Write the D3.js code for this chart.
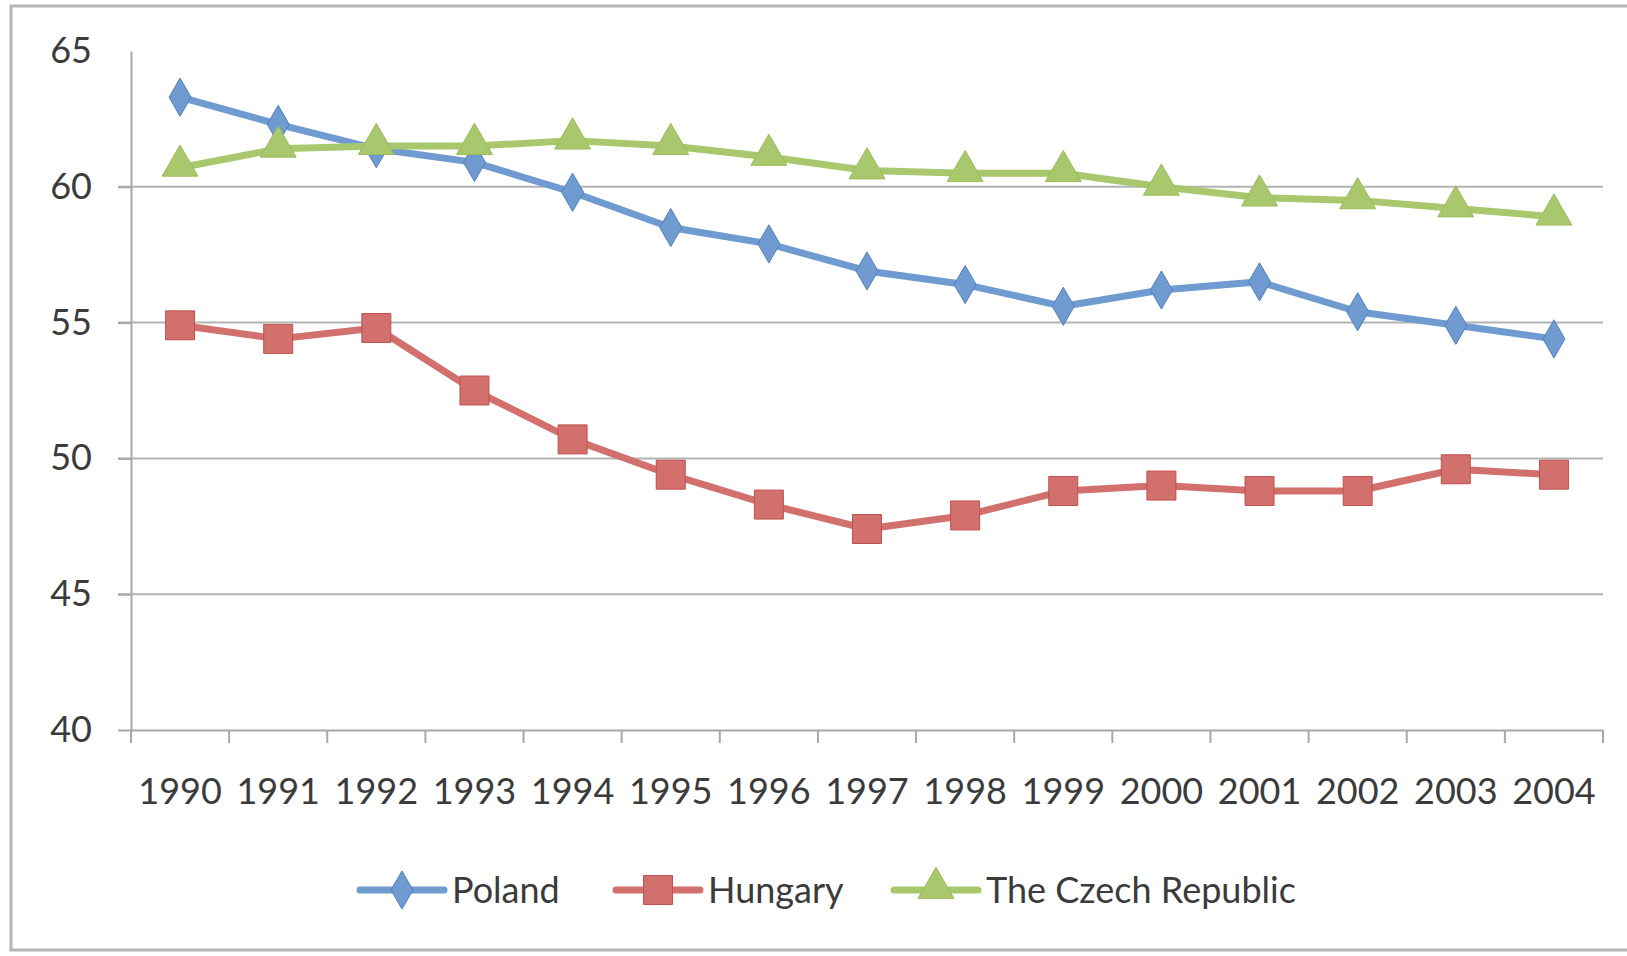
<!DOCTYPE html>
<html>
<head>
<meta charset="utf-8">
<script src="https://cdn.jsdelivr.net/npm/d3@7"></script>
<style>
  body { margin: 0; background: #fff; }
  text { font-family: Lato, "Open Sans", sans-serif; fill: #3b3b3b; }
</style>
</head>
<body>
<script>
// Chart data
var years = ["1990", "1991", "1992", "1993", "1994", "1995", "1996", "1997",
             "1998", "1999", "2000", "2001", "2002", "2003", "2004"];
var poland  = [63.3, 62.3, 61.4, 60.9, 59.8, 58.5, 57.9, 56.9, 56.4, 55.6, 56.2, 56.5, 55.4, 54.9, 54.4];
var hungary = [54.9, 54.4, 54.8, 52.5, 50.7, 49.4, 48.3, 47.4, 47.9, 48.8, 49.0, 48.8, 48.8, 49.6, 49.4];
var czech   = [60.7, 61.4, 61.5, 61.5, 61.7, 61.5, 61.1, 60.6, 60.5, 60.5, 60.0, 59.6, 59.5, 59.2, 58.9];
var seriesNames = ["Poland", "Hungary", "The Czech Republic"];
var yTicks = [40, 45, 50, 55, 60, 65];

var svgWidth = 1627;
var svgHeight = 956;

var margin = { top: 51, right: 24, bottom: 226, left: 131 };
var chartWidth = svgWidth - margin.left - margin.right;
var chartHeight = svgHeight - margin.top - margin.bottom;

var svg = d3.select("body")
  .append("svg")
  .attr("width", svgWidth)
  .attr("height", svgHeight);

// outer frame
svg.append("rect")
  .attr("x", 11).attr("y", 6)
  .attr("width", svgWidth + 20).attr("height", 944)
  .attr("fill", "none")
  .attr("stroke", "#b5b5b5")
  .attr("stroke-width", 3);

var chartGroup = svg.append("g")
  .attr("transform", `translate(${margin.left}, ${margin.top})`);

var xScale = d3.scaleBand()
  .domain(years)
  .range([0, chartWidth]);

var yScale = d3.scaleLinear()
  .domain([40, 65])
  .range([chartHeight, 0]);

// gridlines
chartGroup.append("g")
  .selectAll("line")
  .data(yTicks.filter(d => d > 40 && d < 65))
  .enter().append("line")
  .attr("x1", -13).attr("x2", chartWidth)
  .attr("y1", d => yScale(d)).attr("y2", d => yScale(d))
  .attr("stroke", "#b3b3b3")
  .attr("stroke-width", 2);

// y axis
var leftAxis = d3.axisLeft(yScale)
  .tickValues(yTicks)
  .tickSizeInner(13)
  .tickSizeOuter(0)
  .tickPadding(26);

var yAxisG = chartGroup.append("g").call(leftAxis);
yAxisG.select(".domain").attr("stroke", "#a8a8a8").attr("stroke-width", 2);
yAxisG.selectAll(".tick line").attr("stroke", "#a8a8a8").attr("stroke-width", 2);
yAxisG.selectAll(".tick").filter(d => d === 65).select("line").remove();
yAxisG.selectAll("text")
  .style("font-size", "36px")
  .attr("fill", "#3b3b3b");

// x axis with ticks at band boundaries
var bottomAxis = d3.axisBottom(xScale).tickSize(0).tickPadding(48);
var xAxisG = chartGroup.append("g")
  .attr("transform", `translate(0, ${chartHeight})`)
  .call(bottomAxis);
xAxisG.select(".domain").attr("stroke", "#a8a8a8").attr("stroke-width", 2);
xAxisG.selectAll("text")
  .style("font-size", "36px")
  .attr("fill", "#3b3b3b");

xAxisG.append("g")
  .selectAll("line")
  .data(years.concat(["end"]))
  .enter().append("line")
  .attr("x1", (d, i) => i * xScale.bandwidth())
  .attr("x2", (d, i) => i * xScale.bandwidth())
  .attr("y1", 0).attr("y2", 13)
  .attr("stroke", "#a8a8a8")
  .attr("stroke-width", 2);

var series = [
  { name: seriesNames[0], values: poland,  color: "#4f81bd", light: "#6f9bd0", shape: "diamond" },
  { name: seriesNames[1], values: hungary, color: "#c0504d", light: "#d2706d", shape: "square" },
  { name: seriesNames[2], values: czech,   color: "#9bbb59", light: "#a9c86e", shape: "triangle" }
];

var symbolFor = {
  diamond: d3.symbol().type(d3.symbolDiamond).size(420),
  square: d3.symbol().type(d3.symbolSquare).size(840),
  triangle: d3.symbol().type(d3.symbolTriangle).size(560)
};

var drawLine = d3.line()
  .x((d, i) => xScale(years[i]) + xScale.bandwidth() / 2)
  .y(d => yScale(d));

series.forEach(function(s) {
  chartGroup.append("path")
    .datum(s.values)
    .attr("d", drawLine)
    .attr("fill", "none")
    .attr("stroke", s.light)
    .attr("stroke-width", 7)
    .attr("stroke-linejoin", "round")
    .attr("stroke-linecap", "round");

  chartGroup.append("g")
    .selectAll("path")
    .data(s.values)
    .enter().append("path")
    .attr("d", symbolFor[s.shape])
    .attr("transform", (d, i) => {
      var dy = s.shape === "triangle" ? -2 : 0;
      return `translate(${xScale(years[i]) + xScale.bandwidth() / 2}, ${yScale(d) + dy})`;
    })
    .attr("fill", s.light)
    .attr("stroke", s.color)
    .attr("stroke-width", 1);
});

// legend
var legendX = [360, 616, 894];
var legend = svg.append("g").attr("transform", "translate(0, 890)");
series.forEach(function(s, i) {
  var g = legend.append("g").attr("transform", `translate(${legendX[i]}, 0)`);
  g.append("line")
    .attr("x1", 0).attr("x2", 84)
    .attr("y1", 0).attr("y2", 0)
    .attr("stroke", s.light)
    .attr("stroke-width", 7)
    .attr("stroke-linecap", "round");
  g.append("path")
    .attr("d", symbolFor[s.shape])
    .attr("transform", `translate(42, ${s.shape === "triangle" ? -2 : 0})`)
    .attr("fill", s.light)
    .attr("stroke", s.color);
  g.append("text")
    .attr("x", 92)
    .attr("y", 0)
    .attr("dy", "0.35em")
    .style("font-size", "36px")
    .text(s.name);
});
</script>
</body>
</html>
